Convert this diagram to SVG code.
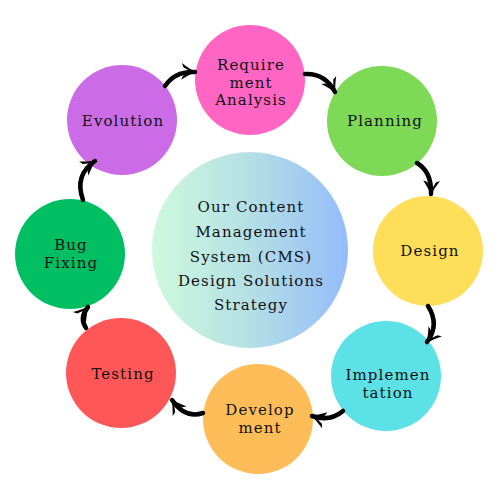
<svg xmlns="http://www.w3.org/2000/svg" width="500" height="500" viewBox="0 0 500 500">
<defs>
<linearGradient id="cg" x1="0" y1="0" x2="1" y2="0">
<stop offset="0" stop-color="#CEF9DC"/>
<stop offset="0.5" stop-color="#B4DFE5"/>
<stop offset="1" stop-color="#94BCFA"/>
</linearGradient>
<marker id="ah" markerUnits="userSpaceOnUse" viewBox="0 0 16 16" refX="13" refY="8" markerWidth="18" markerHeight="18" orient="auto">
<path d="M1,0.5 C6,4 10,6.5 14.5,8 C10,9.5 6,12 1,15.5 L2.5,11.8 C6,10 8.3,8.8 9.3,8 C8.3,7.2 6,6 2.5,4.2 Z" fill="#000"/>
</marker>
<style>
.n text{font-family:"DejaVu Serif","Liberation Serif",serif;font-size:15px;letter-spacing:1.1px;fill:#111;text-anchor:middle}
.c path{fill:none;stroke:#000;stroke-width:4.5;stroke-linecap:round;marker-end:url(#ah)}
</style>
</defs>
<rect width="500" height="500" fill="#fff"/>
<g id="center" class="n">
<circle cx="250" cy="250" r="98" fill="url(#cg)"/>
<text x="251" y="212">Our Content</text>
<text x="251" y="237">Management</text>
<text x="251" y="262">System (CMS)</text>
<text x="251" y="286">Design Solutions</text>
<text x="251" y="310">Strategy</text>
</g>
<g id="requirement" class="n">
<circle cx="250" cy="80" r="55" fill="#FF66C4"/>
<text x="251" y="70">Require</text>
<text x="251" y="87.5">ment</text>
<text x="251" y="105">Analysis</text>
</g>
<g id="planning" class="n">
<circle cx="382" cy="121" r="55" fill="#7ED957"/>
<text x="385" y="126">Planning</text>
</g>
<g id="design" class="n">
<circle cx="428" cy="251" r="55" fill="#FFDE59"/>
<text x="430" y="256">Design</text>
</g>
<g id="implementation" class="n">
<circle cx="386" cy="376" r="55" fill="#5CE1E6"/>
<text x="388" y="380">Implemen</text>
<text x="388" y="397.5">tation</text>
</g>
<g id="development" class="n">
<circle cx="258" cy="419" r="55" fill="#FFBD59"/>
<text x="260" y="415">Develop</text>
<text x="260" y="432.5">ment</text>
</g>
<g id="testing" class="n">
<circle cx="121" cy="373" r="55" fill="#FF5757"/>
<text x="123" y="379">Testing</text>
</g>
<g id="bugfixing" class="n">
<circle cx="70" cy="254" r="55" fill="#00BF63"/>
<text x="71" y="250">Bug</text>
<text x="71" y="267.5">Fixing</text>
</g>
<g id="evolution" class="n">
<circle cx="122" cy="120" r="55" fill="#CB6CE6"/>
<text x="123" y="126">Evolution</text>
</g>
<g id="connectors" class="c">
<path d="M165,86 Q175,71 195,72"/>
<path d="M305,74 Q325,73 335,92"/>
<path d="M417,163 Q432,172 431,194"/>
<path d="M428,306 Q440,325 427,342"/>
<path d="M343,411 Q330,422 312,416"/>
<path d="M203,413 Q185,419 172,400"/>
<path d="M86,328 Q79,318 88,307"/>
<path d="M83,200 Q74,175 95,161"/>
</g>
</svg>
